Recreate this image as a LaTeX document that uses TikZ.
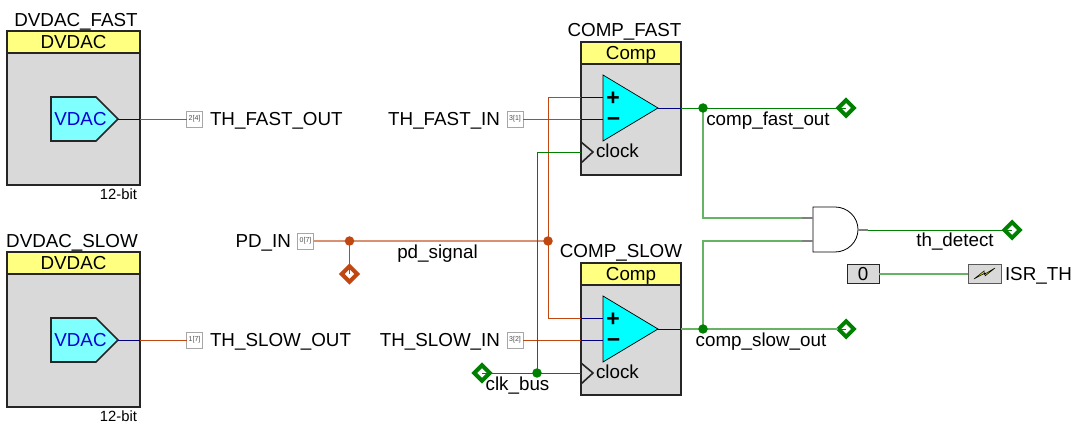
\documentclass[tikz,border=0pt]{standalone}
\usepackage{fontspec}
\setmainfont{Liberation Sans}
\usetikzlibrary{shapes.geometric}
\definecolor{wireorange}{RGB}{192,72,16}
\definecolor{wiregreen}{RGB}{0,128,0}
\definecolor{wireblue}{RGB}{0,0,128}
\definecolor{blockgray}{RGB}{217,217,217}
\definecolor{headyellow}{RGB}{255,255,128}
\definecolor{vdaccyan}{RGB}{128,255,255}
\definecolor{compcyan}{RGB}{0,255,255}
\tikzset{
  lbl/.style={inner sep=0pt, outer sep=0pt, text height=13pt, text depth=0pt, font=\fontsize{18.8}{18.8}\selectfont},
  small lbl/.style={inner sep=0pt, outer sep=0pt, text height=10pt, text depth=0pt, font=\fontsize{14.8}{14.8}\selectfont},
  sym/.style={inner sep=0pt, outer sep=0pt, font=\bfseries\fontsize{23}{23}\selectfont},
  head/.style={draw=black!85, line width=1.6pt, fill=headyellow, minimum width=133pt, minimum height=22pt, inner sep=0pt, outer sep=0pt, text height=13pt, text depth=0pt, font=\fontsize{18.8}{18.8}\selectfont},
  body/.style={draw=black!85, line width=1.6pt, fill=blockgray, minimum width=133pt, inner sep=0pt, outer sep=0pt},
  pinbox/.style={draw=black!35, line width=0.9pt, fill=white, minimum size=16pt, inner sep=0pt, outer sep=0pt, text=black!70, font=\fontsize{7}{7}\selectfont},
  dot/.style={circle, inner sep=0pt, outer sep=0pt, minimum size=9.5pt},
  term/.style={diamond, aspect=1, draw=#1, line width=3.9pt, fill=white, inner sep=0pt, outer sep=0pt, minimum size=15.5pt},
  wire/.style={line width=0.9pt, #1},
  fatwire/.style={line width=1.8pt, #1!60},
  stub/.style={line width=1.8pt, black!50},
  constbox/.style={draw=black!85, line width=1pt, fill=blockgray, inner sep=0pt, outer sep=0pt, minimum height=19pt, text height=13pt, text depth=0pt}
}
\begin{document}
\begin{tikzpicture}[x=1pt, y=-1pt]
  \useasboundingbox (0,0) rectangle (1092,435);

  % DVDAC blocks
  \node[body, minimum height=132pt] (bodyfast) at (73.5,119) {};
  \node[head] (headfast) at (73.5,42) {DVDAC};
  \node[lbl] (namefast) at (76,20) {DVDAC\_FAST};
  \node[small lbl, anchor=east] (bitfast) at (137,195) {12-bit};
  \draw[line width=1.6pt, black!85, fill=vdaccyan] (51,97) -- (96,97) -- (118,119) -- (96,141) -- (51,141) -- cycle;
  \node[lbl, text=blue!85!black] (vdacfast) at (80.5,119) {VDAC};

  \node[body, minimum height=133pt] (bodyslow) at (73.5,340.5) {};
  \node[head] (headslow) at (73.5,263) {DVDAC};
  \node[lbl] (nameslow) at (72,241) {DVDAC\_SLOW};
  \node[small lbl, anchor=east] (bitslow) at (137,416) {12-bit};
  \draw[line width=1.6pt, black!85, fill=vdaccyan] (51,318) -- (96,318) -- (118,340) -- (96,362) -- (51,362) -- cycle;
  \node[lbl, text=blue!85!black] (vdacslow) at (80.5,340) {VDAC};

  % Comp blocks
  \node[body, minimum width=100pt, minimum height=111pt] (compfast) at (631,119.5) {};
  \node[head, minimum width=100pt] (compheadfast) at (631,53) {Comp};
  \node[lbl] (compnamefast) at (624.5,30.5) {COMP\_FAST};
  \draw[black, fill=compcyan, line width=0.7pt] (603,75) -- (658,108) -- (603,141) -- cycle;
  \node[sym] (plusfast) at (613,99) {+};
  \node[sym] (minusfast) at (613.5,122) {\textminus};
  \draw[line width=1.6pt, black!85] (581,142) -- (593,152) -- (581,163);
  \node[lbl, anchor=west] (clockfast) at (596,151) {clock};

  \node[body, minimum width=100pt, minimum height=110pt] (compslow) at (631,340) {};
  \node[head, minimum width=100pt] (compheadslow) at (631,274) {Comp};
  \node[lbl] (compnameslow) at (621,251) {COMP\_SLOW};
  \draw[black, fill=compcyan, line width=0.7pt] (603,296) -- (658,329) -- (603,362) -- cycle;
  \node[sym] (plusslow) at (613,320) {+};
  \node[sym] (minusslow) at (613.5,343) {\textminus};
  \draw[line width=1.6pt, black!85] (581,363) -- (593,373) -- (581,384);
  \node[lbl, anchor=west] (clockslow) at (596,372) {clock};

  % pins
  \node[pinbox] (pinfastout) at (194.5,119) {2[4]};
  \node[lbl, anchor=west] at (210,119) {TH\_FAST\_OUT};
  \node[pinbox] (pinslowout) at (194.5,340) {1[7]};
  \node[lbl, anchor=west] at (210,340) {TH\_SLOW\_OUT};
  \node[pinbox] (pinfastin) at (515,119) {3[1]};
  \node[lbl, anchor=east] at (500,119) {TH\_FAST\_IN};
  \node[pinbox] (pinslowin) at (515,340) {3[2]};
  \node[lbl, anchor=east] at (500,340) {TH\_SLOW\_IN};
  \node[pinbox] (pinpd) at (305.5,241) {0[7]};
  \node[lbl, anchor=east] at (291,241) {PD\_IN};

  % terminals
  \node[term=wireorange] (termpd) at (349.5,274) {};
  \node[term=wiregreen] (termclk) at (482,373) {};
  \node[term=wiregreen] (termfast) at (846,108) {};
  \node[term=wiregreen] (termslow) at (846,329) {};
  \node[term=wiregreen] (termdetect) at (1012,230) {};

  % named ends on the blocks and junction points
  \coordinate (juncpd) at (349.5,241);
  \coordinate (juncmid) at (548,241);
  \coordinate (juncclk) at (537,373);
  \coordinate (juncfast) at (703,108);
  \coordinate (juncslow) at (703,329);
  \coordinate (vdacfasttip) at (118,119);
  \coordinate (vdacfastedge) at (140,119);
  \coordinate (vdacslowtip) at (118,340);
  \coordinate (vdacslowedge) at (140,340);
  \coordinate (plusfastin) at (603,97);
  \coordinate (plusfastedge) at (581,97);
  \coordinate (minusfastin) at (603,119);
  \coordinate (minusfastedge) at (581,119);
  \coordinate (clkfastin) at (581,152);
  \coordinate (outfasttip) at (658,108);
  \coordinate (outfastedge) at (681,108);
  \coordinate (plusslowin) at (603,318);
  \coordinate (plusslowedge) at (581,318);
  \coordinate (minusslowin) at (603,340);
  \coordinate (minusslowedge) at (581,340);
  \coordinate (clkslowin) at (581,373);
  \coordinate (outslowtip) at (658,329);
  \coordinate (outslowedge) at (681,329);

  % AND gate
  \draw[line width=0.8pt, black, fill=white] (813,207) -- (835,207) .. controls (847.5,207) and (858,217) .. (858,229.5) .. controls (858,242) and (847.5,252) .. (835,252) -- (813,252) -- cycle;
  \coordinate (andtop) at (813,218);
  \coordinate (andbot) at (813,241);
  \coordinate (andout) at (858,230);

  % wires
  \draw[wire=wireblue] (vdacfasttip) -- (vdacfastedge);
  \draw[wire=wireorange] (vdacfastedge) -- (pinfastout);
  \draw[wire=wireblue] (vdacslowtip) -- (vdacslowedge);
  \draw[wire=wireorange] (vdacslowedge) -- (pinslowout);
  \draw[wire=wireorange] (pinfastin) -- (minusfastedge);
  \draw[wire=wireblue] (minusfastedge) -- (minusfastin);
  \draw[wire=wireorange] (pinslowin) -- (minusslowedge);
  \draw[wire=wireblue] (minusslowedge) -- (minusslowin);
  \draw[wire=wireorange] (plusfastedge) -| (juncmid);
  \draw[wire=wireorange] (plusslowedge) -| (juncmid);
  \draw[wire=wireblue] (plusfastedge) -- (plusfastin);
  \draw[wire=wireblue] (plusslowedge) -- (plusslowin);
  \draw[fatwire=wireorange] (pinpd) -- (juncmid);
  \draw[wire=wireorange] (juncpd) -- (termpd.center);
  \draw[wire=wiregreen] (clkfastin) -| (juncclk);
  \draw[wire=wiregreen] (termclk.center) -- (clkslowin);
  \draw[wire=wireblue] (outfasttip) -- (outfastedge);
  \draw[wire=wiregreen] (outfastedge) -- (termfast.center);
  \draw[wire=wireblue] (outslowtip) -- (outslowedge);
  \draw[fatwire=wiregreen] (outslowedge) -- (termslow.west);
  \draw[wire=wiregreen] (termslow.west) -- (termslow.center);
  \draw[fatwire=wiregreen] (juncfast) |- (andtop);
  \draw[fatwire=wiregreen] (juncslow) |- (andbot);
  \draw[wire=wiregreen] (andout) -- (termdetect.center);
  \draw[stub] (802,218) -- (andtop);
  \draw[stub] (802,241) -- (andbot);
  \draw[stub] (andout) -- (868,230);

  % junction dots go over the wires
  \node[dot, fill=wireorange] (dotpd) at (juncpd) {};
  \node[dot, fill=wireorange] (dotmid) at (juncmid) {};
  \node[dot, fill=wiregreen] (dotclk) at (juncclk) {};
  \node[dot, fill=wiregreen] (dotfast) at (juncfast) {};
  \node[dot, fill=wiregreen] (dotslow) at (juncslow) {};

  % net names
  \node[lbl] (pdname) at (437.5,252) {pd\_signal};
  \node[lbl] (clkname) at (517.5,384) {clk\_bus};
  \node[lbl] (fastname) at (768,119) {comp\_fast\_out};
  \node[lbl] (slowname) at (761,340) {comp\_slow\_out};
  \node[lbl] (detectname) at (955,240.5) {th\_detect};

  % constant and interrupt
  \node[constbox, minimum width=32pt, font=\fontsize{18.8}{18.8}\selectfont] (constzero) at (863,274) {0};
  \node[constbox, minimum width=33pt, draw=black!65] (isrbox) at (984.5,274) {};
  \draw[black, fill=yellow!90!black, line width=0.5pt] (974,279) -- (984,271) -- (984,274.5) -- (995,268) -- (985,276) -- (985,273) -- cycle;
  \node[lbl, anchor=west] (isrname) at (1005,274) {ISR\_TH};
  \draw[fatwire=wiregreen] (constzero) -- (isrbox);
\end{tikzpicture}
\end{document}
